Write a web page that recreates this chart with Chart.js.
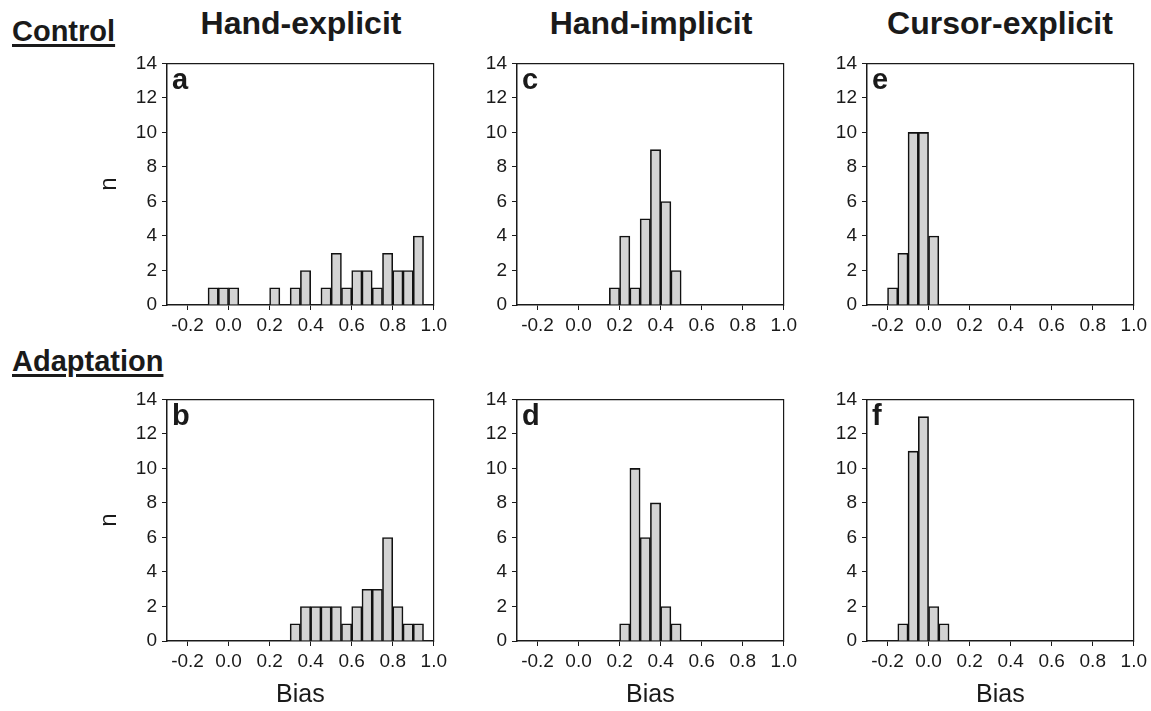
<!DOCTYPE html>
<html>
<head>
<meta charset="utf-8">
<script src="https://cdn.jsdelivr.net/npm/chart.js@4.4.1/dist/chart.umd.min.js"></script>
<style>
  body { margin: 0; background: #fff; overflow: hidden; width: 1151px; height: 711px; position: relative; }
  canvas { position: absolute; }
  .row { position: absolute; left: 12px; font: bold 29px "Liberation Sans", Arial, sans-serif; line-height: 29px; color: #1a1a1a;
         text-decoration: underline; text-decoration-thickness: 2.5px; text-underline-offset: 3px; }
  .head { position: absolute; top: 7px; font: bold 32px "Liberation Sans", Arial, sans-serif; line-height: 32px; color: #1a1a1a;
          transform: translateX(-50%); white-space: nowrap; }
</style>
</head>
<body>
<div class="row" style="top:17px">Control</div>
<div class="row" style="top:347px">Adaptation</div>
<div class="head" style="left:301px">Hand-explicit</div>
<div class="head" style="left:651px">Hand-implicit</div>
<div class="head" style="left:1000px">Cursor-explicit</div>

<canvas id="chartA" width="354" height="327" style="left:97px;top:47px"></canvas>
<canvas id="chartC" width="354" height="327" style="left:447px;top:47px"></canvas>
<canvas id="chartE" width="354" height="327" style="left:797px;top:47px"></canvas>
<canvas id="chartB" width="354" height="327" style="left:97px;top:383px"></canvas>
<canvas id="chartD" width="354" height="327" style="left:447px;top:383px"></canvas>
<canvas id="chartF" width="354" height="327" style="left:797px;top:383px"></canvas>

<script>
// bin centres (bin width 0.05) and axis ticks
const binCenters = [-0.275, -0.225, -0.175, -0.125, -0.075, -0.025, 0.025, 0.075, 0.125, 0.175,
                    0.225, 0.275, 0.325, 0.375, 0.425, 0.475, 0.525, 0.575, 0.625, 0.675,
                    0.725, 0.775, 0.825, 0.875, 0.925, 0.975];
const xTicks = [-0.2, 0.0, 0.2, 0.4, 0.6, 0.8, 1.0];
const yTicks = [0, 2, 4, 6, 8, 10, 12, 14];

// counts per bin, one list per panel
const controlHandExplicit   = [0,0,0,0,1,1,1,0,0,0,1,0,1,2,0,1,3,1,2,2,1,3,2,2,4,0];
const controlHandImplicit   = [0,0,0,0,0,0,0,0,0,1,4,1,5,9,6,2,0,0,0,0,0,0,0,0,0,0];
const controlCursorExplicit = [0,0,1,3,10,10,4,0,0,0,0,0,0,0,0,0,0,0,0,0,0,0,0,0,0,0];
const adaptHandExplicit     = [0,0,0,0,0,0,0,0,0,0,0,0,1,2,2,2,2,1,2,3,3,6,2,1,1,0];
const adaptHandImplicit     = [0,0,0,0,0,0,0,0,0,0,1,10,6,8,2,1,0,0,0,0,0,0,0,0,0,0];
const adaptCursorExplicit   = [0,0,0,1,11,13,2,1,0,0,0,0,0,0,0,0,0,0,0,0,0,0,0,0,0,0];

const FONT = '"Liberation Sans", Arial, sans-serif';
const INK = '#1a1a1a';

Chart.defaults.font.family = FONT;
Chart.defaults.color = INK;

function makeHistogram(id, counts, letter, showN, showBias){
    const ctx = document.getElementById(id);

    // draws the panel letter in the top-left corner of the plot
    const panelLetter = {
        id: 'panelLetter',
        afterDraw(chart){
            const a = chart.chartArea;
            const c = chart.ctx;
            c.save();
            c.font = 'bold 29px ' + FONT;
            c.fillStyle = INK;
            c.textBaseline = 'alphabetic';
            c.fillText(letter, a.left + 5, a.top + 26);
            c.restore();
        }
    };

    return new Chart(ctx, {
        type: 'bar',
        data: {
            datasets: [{
                data: binCenters.map((c, i) => ({x: c, y: counts[i]})),
                backgroundColor: '#d3d3d3',
                borderColor: '#111',
                borderWidth: 1.6,
                barPercentage: 1.0,
                categoryPercentage: 1.0
            }]
        },
        options: {
            responsive: false,
            animation: false,
            devicePixelRatio: 1,
            layout: { padding: { top: 14, right: 16, left: 0, bottom: 0 } },
            plugins: { legend: { display: false }, tooltip: { enabled: false } },
            scales: {
                x: {
                    type: 'linear',
                    min: -0.3,
                    max: 1.0,
                    offset: false,
                    grid: { offset: false, drawOnChartArea: false, tickLength: 5, color: INK, tickColor: INK },
                    border: { display: true, color: INK, width: 1.5 },
                    ticks: { font: { size: 19 }, padding: 4, maxRotation: 0, autoSkip: false,
                             callback: (v) => Number(v).toFixed(1) },
                    title: { display: showBias, text: 'Bias', font: { size: 25, lineHeight: 1.2 }, padding: 0 },
                    afterBuildTicks: (scale) => { scale.ticks = xTicks.map(v => ({value: v})); },
                    afterFit: (scale) => { scale.height = 69; }
                },
                y: {
                    min: 0,
                    max: 14,
                    grid: { drawOnChartArea: false, tickLength: 5, color: INK, tickColor: INK },
                    border: { display: true, color: INK, width: 1.5 },
                    ticks: { font: { size: 19 }, padding: 5 },
                    title: { display: showN, text: 'n', font: { size: 24, lineHeight: 1.0 }, padding: 0 },
                    afterBuildTicks: (scale) => { scale.ticks = yTicks.map(v => ({value: v})); },
                    afterFit: (scale) => { scale.width = 70; }
                },
                // frame: top and right edges of the plot box
                x2: {
                    type: 'linear',
                    position: 'top',
                    grid: { display: false, drawTicks: false },
                    ticks: { display: false },
                    border: { display: true, color: INK, width: 1.2 },
                    afterFit: (scale) => { scale.height = 0; }
                },
                y2: {
                    type: 'linear',
                    position: 'right',
                    grid: { display: false, drawTicks: false },
                    ticks: { display: false },
                    border: { display: true, color: INK, width: 1.2 },
                    afterFit: (scale) => { scale.width = 0; }
                }
            }
        },
        plugins: [panelLetter]
    });
}

makeHistogram('chartA', controlHandExplicit, 'a', true, false);
makeHistogram('chartC', controlHandImplicit, 'c', false, false);
makeHistogram('chartE', controlCursorExplicit, 'e', false, false);
makeHistogram('chartB', adaptHandExplicit, 'b', true, true);
makeHistogram('chartD', adaptHandImplicit, 'd', false, true);
makeHistogram('chartF', adaptCursorExplicit, 'f', false, true);
</script>
</body>
</html>
